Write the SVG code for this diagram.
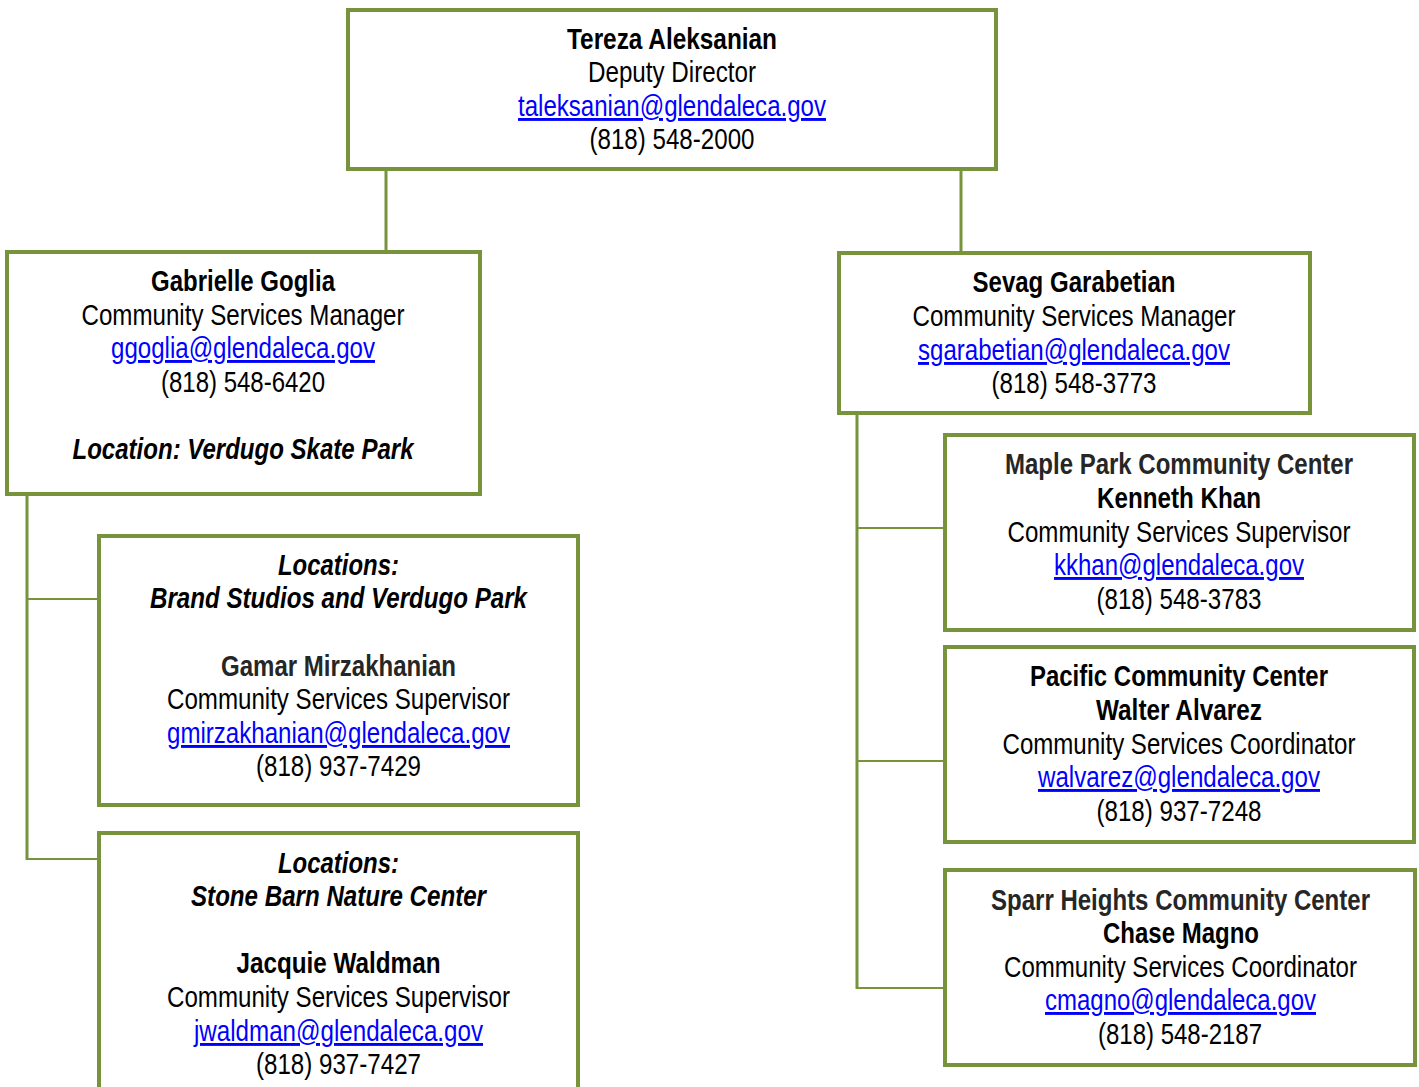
<svg xmlns="http://www.w3.org/2000/svg" width="1419" height="1087" viewBox="0 0 1419 1087">
<style>
.box{fill:#fff;stroke:#77933C;stroke-width:4}
.con{fill:none;stroke:#77933C;stroke-width:3}
.conh{fill:none;stroke:#77933C;stroke-width:2}
text{font-family:"Liberation Sans Narrow","Arial Narrow","Liberation Sans",Arial,sans-serif;font-size:29px;fill:#000;text-anchor:middle}
.b{font-weight:bold}
.g{fill:#262626}
.i{font-weight:bold;font-style:italic}
.e{fill:#0000FF;text-decoration:underline}
</style>
<rect width="1419" height="1087" fill="#fff"/>
<g id="connectors">
<path class="con" d="M386 171V251"/>
<path class="con" d="M961 171V252"/>
<path class="con" d="M27 496V860"/>
<path class="conh" d="M27 599H98M26 859H98"/>
<path class="con" d="M857 415V989"/>
<path class="conh" d="M857 528H944M857 761H944M856 988H944"/>
</g>
<g id="n-aleksanian">
<rect class="box" x="348" y="10" width="648" height="159"/>
<text class="b" x="672" y="49" textLength="210" lengthAdjust="spacingAndGlyphs">Tereza Aleksanian</text>
<text x="672" y="82" textLength="168" lengthAdjust="spacingAndGlyphs">Deputy Director</text>
<text class="e" x="672" y="116" textLength="308" lengthAdjust="spacingAndGlyphs">taleksanian@glendaleca.gov</text>
<text x="672" y="149" textLength="165" lengthAdjust="spacingAndGlyphs">(818) 548-2000</text>
</g>
<g id="n-goglia">
<rect class="box" x="7" y="252" width="473" height="242"/>
<text class="b" x="243" y="291" textLength="184" lengthAdjust="spacingAndGlyphs">Gabrielle Goglia</text>
<text x="243" y="325" textLength="323" lengthAdjust="spacingAndGlyphs">Community Services Manager</text>
<text class="e" x="243" y="358" textLength="264" lengthAdjust="spacingAndGlyphs">ggoglia@glendaleca.gov</text>
<text x="243" y="392" textLength="164" lengthAdjust="spacingAndGlyphs">(818) 548-6420</text>
<text class="i" x="243" y="459" textLength="341" lengthAdjust="spacingAndGlyphs">Location: Verdugo Skate Park</text>
</g>
<g id="n-garabetian">
<rect class="box" x="839" y="253" width="471" height="160"/>
<text class="b" x="1074" y="292" textLength="203" lengthAdjust="spacingAndGlyphs">Sevag Garabetian</text>
<text x="1074" y="326" textLength="323" lengthAdjust="spacingAndGlyphs">Community Services Manager</text>
<text class="e" x="1074" y="360" textLength="312" lengthAdjust="spacingAndGlyphs">sgarabetian@glendaleca.gov</text>
<text x="1074" y="393" textLength="165" lengthAdjust="spacingAndGlyphs">(818) 548-3773</text>
</g>
<g id="n-mirzakhanian">
<rect class="box" x="99" y="536" width="479" height="269"/>
<text class="i" x="338.5" y="575" textLength="121" lengthAdjust="spacingAndGlyphs">Locations:</text>
<text class="i" x="338.5" y="608" textLength="377" lengthAdjust="spacingAndGlyphs">Brand Studios and Verdugo Park</text>
<text class="b g" x="338.5" y="676" textLength="235" lengthAdjust="spacingAndGlyphs">Gamar Mirzakhanian</text>
<text x="338.5" y="709" textLength="343" lengthAdjust="spacingAndGlyphs">Community Services Supervisor</text>
<text class="e" x="338.5" y="743" textLength="343" lengthAdjust="spacingAndGlyphs">gmirzakhanian@glendaleca.gov</text>
<text x="338.5" y="776" textLength="165" lengthAdjust="spacingAndGlyphs">(818) 937-7429</text>
</g>
<g id="n-waldman">
<rect class="box" x="99" y="833" width="479" height="270"/>
<text class="i" x="338.5" y="873" textLength="121" lengthAdjust="spacingAndGlyphs">Locations:</text>
<text class="i" x="338.5" y="906" textLength="295" lengthAdjust="spacingAndGlyphs">Stone Barn Nature Center</text>
<text class="b" x="338.5" y="973" textLength="204" lengthAdjust="spacingAndGlyphs">Jacquie Waldman</text>
<text x="338.5" y="1007" textLength="343" lengthAdjust="spacingAndGlyphs">Community Services Supervisor</text>
<text class="e" x="338.5" y="1041" textLength="289" lengthAdjust="spacingAndGlyphs">jwaldman@glendaleca.gov</text>
<text x="338.5" y="1074" textLength="165" lengthAdjust="spacingAndGlyphs">(818) 937-7427</text>
</g>
<g id="n-khan">
<rect class="box" x="945" y="435" width="469" height="195"/>
<text class="b g" x="1179" y="474" textLength="348" lengthAdjust="spacingAndGlyphs">Maple Park Community Center</text>
<text class="b" x="1179" y="508" textLength="164" lengthAdjust="spacingAndGlyphs">Kenneth Khan</text>
<text x="1179" y="542" textLength="343" lengthAdjust="spacingAndGlyphs">Community Services Supervisor</text>
<text class="e" x="1179" y="575" textLength="250" lengthAdjust="spacingAndGlyphs">kkhan@glendaleca.gov</text>
<text x="1179" y="609" textLength="165" lengthAdjust="spacingAndGlyphs">(818) 548-3783</text>
</g>
<g id="n-alvarez">
<rect class="box" x="945" y="647" width="469" height="195"/>
<text class="b" x="1179" y="686" textLength="298" lengthAdjust="spacingAndGlyphs">Pacific Community Center</text>
<text class="b" x="1179" y="720" textLength="166" lengthAdjust="spacingAndGlyphs">Walter Alvarez</text>
<text x="1179" y="754" textLength="353" lengthAdjust="spacingAndGlyphs">Community Services Coordinator</text>
<text class="e" x="1179" y="787" textLength="282" lengthAdjust="spacingAndGlyphs">walvarez@glendaleca.gov</text>
<text x="1179" y="821" textLength="165" lengthAdjust="spacingAndGlyphs">(818) 937-7248</text>
</g>
<g id="n-magno">
<rect class="box" x="945" y="870" width="470" height="195"/>
<text class="b g" x="1180.5" y="910" textLength="379" lengthAdjust="spacingAndGlyphs">Sparr Heights Community Center</text>
<text class="b" x="1181" y="943" textLength="156" lengthAdjust="spacingAndGlyphs">Chase Magno</text>
<text x="1180.5" y="977" textLength="353" lengthAdjust="spacingAndGlyphs">Community Services Coordinator</text>
<text class="e" x="1180.5" y="1010" textLength="271" lengthAdjust="spacingAndGlyphs">cmagno@glendaleca.gov</text>
<text x="1180" y="1044" textLength="164" lengthAdjust="spacingAndGlyphs">(818) 548-2187</text>
</g>
</svg>
